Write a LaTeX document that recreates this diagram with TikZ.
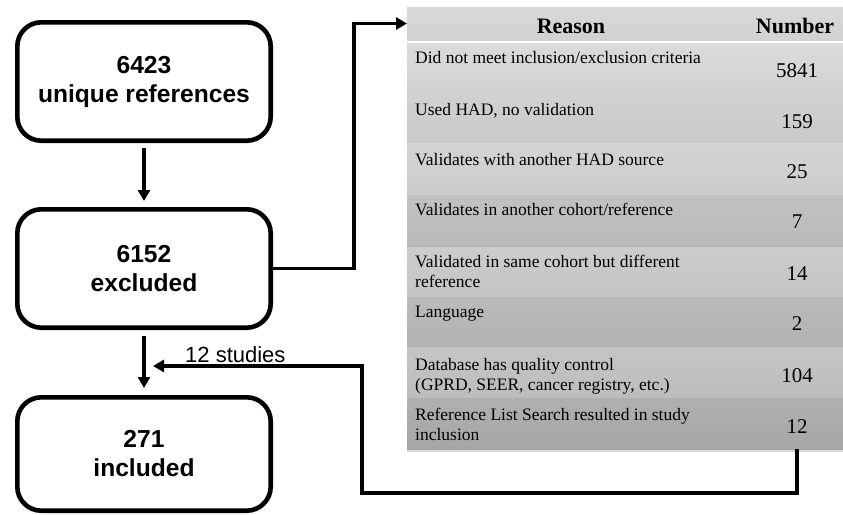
\documentclass[tikz,border=0pt]{standalone}
\usepackage{fontspec}
\setmainfont{Liberation Serif}
\newfontfamily\arialf{Liberation Sans}
\usetikzlibrary{arrows.meta}
\definecolor{h0a}{gray}{0.85}\definecolor{h0b}{gray}{0.82}
\definecolor{c1a}{gray}{0.86}\definecolor{c1b}{gray}{0.82}
\definecolor{c2a}{gray}{0.82}\definecolor{c2b}{gray}{0.79}
\definecolor{c3a}{gray}{0.83}\definecolor{c3b}{gray}{0.80}
\definecolor{c4a}{gray}{0.76}\definecolor{c4b}{gray}{0.73}
\definecolor{c5a}{gray}{0.80}\definecolor{c5b}{gray}{0.77}
\definecolor{c6a}{gray}{0.73}\definecolor{c6b}{gray}{0.70}
\definecolor{c7a}{gray}{0.77}\definecolor{c7b}{gray}{0.74}
\definecolor{c8a}{gray}{0.69}\definecolor{c8b}{gray}{0.65}
\begin{document}
\begin{tikzpicture}[x=1pt,y=-1pt,
  box/.style={draw, line width=4.6pt, rounded corners=24pt, minimum width=253.4pt,
    align=center, inner sep=0pt,
    font=\arialf\bfseries\fontsize{24.6}{29}\selectfont},
  arr/.style={line width=3.6pt, -{Triangle[length=11pt,width=12pt]}},
  tabrow/.style={anchor=north west, minimum width=436pt, inner sep=0pt, outer sep=0pt},
  reason/.style={anchor=base west, inner sep=0pt, align=left,
    font=\fontsize{17.5}{20}\selectfont},
  numtxt/.style={anchor=base, inner sep=0pt, font=\fontsize{21}{24}\selectfont},
  headtxt/.style={anchor=base, inner sep=0pt, font=\bfseries\fontsize{22}{26}\selectfont}
]
\useasboundingbox (0,0) rectangle (843,514);

% boxes
\node[box, minimum height=118.4pt] (b1) at (144,81.5) {6423\\unique references};
\node[box, minimum height=118.4pt] (b2) at (144,268.5) {6152\\excluded};
\node[box, minimum height=113.4pt] (b3) at (144,454) {271\\included};

% table
\fill[gray!30] (407,449) rectangle (843,452);
\node[tabrow, top color=h0a, bottom color=h0b, minimum height=33pt] (hdr) at (407,7) {};
\node[tabrow, top color=c1a, bottom color=c1b, minimum height=50pt] (r1) at (407,43) {};
\node[tabrow, top color=c2a, bottom color=c2b, minimum height=50pt] (r2) at (407,93) {};
\node[tabrow, top color=c3a, bottom color=c3b, minimum height=52pt] (r3) at (407,143) {};
\node[tabrow, top color=c4a, bottom color=c4b, minimum height=52pt] (r4) at (407,195) {};
\node[tabrow, top color=c5a, bottom color=c5b, minimum height=50pt] (r5) at (407,247) {};
\node[tabrow, top color=c6a, bottom color=c6b, minimum height=50pt] (r6) at (407,297) {};
\node[tabrow, top color=c7a, bottom color=c7b, minimum height=51pt] (r7) at (407,347) {};
\node[tabrow, top color=c8a, bottom color=c8b, minimum height=51pt] (r8) at (407,398) {};

\node[headtxt] (hr) at (571,33) {Reason};
\node[headtxt] (hn) at (795,33) {Number};

\node[reason] (t1) at (415,63) {Did not meet inclusion/exclusion criteria};
\node[reason] (t2) at (415,115) {Used HAD, no validation};
\node[reason] (t3) at (415,165) {Validates with another HAD source};
\node[reason] (t4) at (415,215) {Validates in another cohort/reference};
\node[reason] (t5) at (415,287) {Validated in same cohort but different\\reference};
\node[reason] (t6) at (415,317) {Language};
\node[reason] (t7) at (415,390) {Database has quality control\\(GPRD, SEER, cancer registry, etc.)};
\node[reason] (t8) at (415,440) {Reference List Search resulted in study\\inclusion};

\node[numtxt] (n1) at (797,77) {5841};
\node[numtxt] (n2) at (797,128) {159};
\node[numtxt] (n3) at (797,178) {25};
\node[numtxt] (n4) at (797,228) {7};
\node[numtxt] (n5) at (797,280) {14};
\node[numtxt] (n6) at (797,330) {2};
\node[numtxt] (n7) at (797,382) {104};
\node[numtxt] (n8) at (797,433) {12};

% connectors
\draw[arr, shorten <=5pt, shorten >=6pt] (b1) -- (b2);
\draw[arr, shorten <=6pt, shorten >=7pt] (b2) -- (b3);
\draw[arr] (b2.east) -- ++(81,0) |- (hdr.west);
\coordinate (low) at (362,493);
\coordinate (join) at (153,366);
\draw[arr] (r8.south -| n8) |- (low) |- (join);
\node[anchor=base west, inner sep=0pt, font=\arialf\fontsize{22}{26}\selectfont] (lbl) at (185,362) {12 studies};
\end{tikzpicture}
\end{document}
